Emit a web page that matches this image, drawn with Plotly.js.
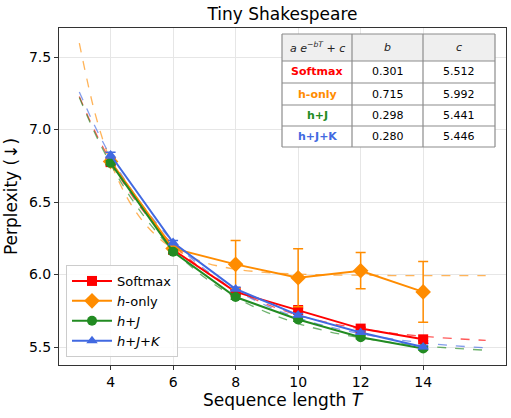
<!DOCTYPE html>
<html><head><meta charset="utf-8">
<script src="https://cdn.plot.ly/plotly-3.0.1.min.js"></script>
<style>html,body{margin:0;padding:0;background:#fff}#chart{width:511px;height:418px}</style>
</head><body><div id="chart"></div>
<script>
// Measured points
const seqLen = [4, 6, 8, 10, 12, 14];
const softmax = [6.775, 6.17, 5.88, 5.755, 5.627, 5.553];
const softmaxErr = [0.015, 0.012, 0.012, 0.012, 0.01, 0.01];
const hOnly = [6.78, 6.18, 6.07, 5.978, 6.026, 5.88];
const hOnlyErr = [0.015, 0.015, 0.165, 0.2, 0.125, 0.21];
const hJ = [6.77, 6.157, 5.845, 5.69, 5.567, 5.49];
const hJErr = [0.015, 0.012, 0.015, 0.012, 0.01, 0.01];
const hJK = [6.824, 6.22, 5.9, 5.72, 5.6, 5.50];
const hJKErr = [0.02, 0.015, 0.012, 0.012, 0.01, 0.01];

const fitT = [3, 3.5, 4, 4.5, 5, 5.5, 6, 7, 8, 9, 10, 11, 12, 13, 14, 15, 16];
const fitSoftmax = [7.227, 6.987, 6.781, 6.604, 6.451, 6.320, 6.207, 6.026, 5.893, 5.794, 5.720, 5.666, 5.626, 5.596, 5.574, 5.558, 5.546];
const fitHOnly = [7.596, 7.114, 6.777, 6.541, 6.376, 6.260, 6.180, 6.084, 6.037, 6.014, 6.003, 5.997, 5.995, 5.993, 5.993, 5.992, 5.992];
const fitHJ = [7.220, 6.974, 6.762, 6.579, 6.422, 6.286, 6.169, 5.981, 5.842, 5.739, 5.662, 5.605, 5.563, 5.531, 5.508, 5.491, 5.478];
const fitHJK = [7.259, 7.022, 6.816, 6.638, 6.482, 6.346, 6.229, 6.038, 5.893, 5.784, 5.701, 5.639, 5.592, 5.556, 5.529, 5.509, 5.494];

// Table
const tableHeader = ["<i>a e</i><sup><i>−bT</i></sup> + <i>c</i>", "<i>b</i>", "<i>c</i>"];
const tableNames = ["Softmax", "h-only", "h+J", "h+J+K"];
const tableB = ["0.301", "0.715", "0.298", "0.280"];
const tableC = ["5.512", "5.992", "5.441", "5.446"];

const legendNames = ["Softmax", "<i>h</i>-only", "<i>h</i>+<i>J</i>", "<i>h</i>+<i>J</i>+<i>K</i>"];
const colors = ["#ff0000", "#ff8c00", "#228b22", "#4169e1"];
const symbols = ["square", "diamond", "circle", "triangle-up"];
const msizes = [10, 12, 10, 10];
const ys = [softmax, hOnly, hJ, hJK];
const errs = [softmaxErr, hOnlyErr, hJErr, hJKErr];
const fits = [fitSoftmax, fitHOnly, fitHJ, fitHJK];

const traces = [];
for (let i = 0; i < 4; i++) {
  traces.push({x: fitT, y: fits[i], mode: 'lines', line: {color: colors[i], width: 1.3, dash: 'dash', shape: 'spline'}, opacity: 0.65, showlegend: false, hoverinfo: 'skip'});
}
for (let i = 0; i < 4; i++) {
  traces.push({x: seqLen, y: ys[i], name: legendNames[i], mode: 'lines+markers',
    line: {color: colors[i], width: 2}, marker: {color: colors[i], symbol: symbols[i], size: msizes[i]},
    error_y: {type: 'data', array: errs[i], visible: true, color: colors[i], thickness: 1.5, width: 5}});
}

const W = 511, H = 418, mL = 59, mR = 5, mT = 28, mB = 53;
const px = v => (v - mL) / (W - mL - mR);
const py = v => (H - mB - v) / (H - mT - mB);
const colX = [282, 352, 423, 495];
const rowY = [34, 61, 83, 105, 126, 147];
const shapes = [];
const annotations = [];
shapes.push({type: 'rect', xref: 'paper', yref: 'paper', x0: px(colX[0]), x1: px(colX[3]), y0: py(rowY[1]), y1: py(rowY[0]), fillcolor: '#efefef', line: {width: 0}, layer: 'above'});
shapes.push({type: 'rect', xref: 'paper', yref: 'paper', x0: px(colX[0]), x1: px(colX[3]), y0: py(rowY[5]), y1: py(rowY[1]), fillcolor: '#ffffff', line: {width: 0}, layer: 'above'});
for (let r = 0; r < rowY.length; r++) {
  shapes.push({type: 'line', xref: 'paper', yref: 'paper', x0: px(colX[0]), x1: px(colX[3]), y0: py(rowY[r]), y1: py(rowY[r]), line: {color: '#8c8c8c', width: 1.2}, layer: 'above'});
}
for (let c = 0; c < colX.length; c++) {
  shapes.push({type: 'line', xref: 'paper', yref: 'paper', x0: px(colX[c]), x1: px(colX[c]), y0: py(rowY[5]), y1: py(rowY[0]), line: {color: '#8c8c8c', width: 1.2}, layer: 'above'});
}
const cellCenterX = c => px((colX[c] + colX[c + 1]) / 2);
const cellCenterY = r => py((rowY[r] + rowY[r + 1]) / 2);
for (let c = 0; c < 3; c++) {
  annotations.push({xref: 'paper', yref: 'paper', x: cellCenterX(c), y: cellCenterY(0), text: tableHeader[c], showarrow: false, xanchor: 'center', yanchor: 'middle', font: {size: 11, color: '#222'}});
}
for (let r = 0; r < 4; r++) {
  annotations.push({xref: 'paper', yref: 'paper', x: cellCenterX(0), y: cellCenterY(r + 1), text: '<b>' + tableNames[r] + '</b>', showarrow: false, xanchor: 'center', yanchor: 'middle', font: {size: 11, color: colors[r]}});
  annotations.push({xref: 'paper', yref: 'paper', x: cellCenterX(1), y: cellCenterY(r + 1), text: tableB[r], showarrow: false, xanchor: 'center', yanchor: 'middle', font: {size: 11, color: '#000'}});
  annotations.push({xref: 'paper', yref: 'paper', x: cellCenterX(2), y: cellCenterY(r + 1), text: tableC[r], showarrow: false, xanchor: 'center', yanchor: 'middle', font: {size: 11, color: '#000'}});
}

const layout = {
  width: W, height: H,
  margin: {l: mL, r: mR, t: mT, b: mB},
  font: {family: 'DejaVu Sans', color: '#000'},
  paper_bgcolor: '#fff', plot_bgcolor: '#fff',
  title: {text: 'Tiny Shakespeare', font: {size: 17}, x: (mL + (W - mL - mR) / 2) / W, xanchor: 'center', y: 1 - 14 / H, yanchor: 'middle'},
  xaxis: {range: [2.35, 16.65], tickvals: seqLen, ticktext: seqLen.map(String), tickfont: {size: 14},
    title: {text: 'Sequence length <i>T</i>', font: {size: 17}, standoff: 5},
    showgrid: true, gridcolor: '#e6e6e6', zeroline: false, showline: true, mirror: true, linecolor: '#333', linewidth: 1,
    ticks: 'outside', ticklen: 4, tickcolor: '#333'},
  yaxis: {range: [5.376, 7.70], tickvals: [5.5, 6.0, 6.5, 7.0, 7.5], ticktext: ['5.5', '6.0', '6.5', '7.0', '7.5'], tickfont: {size: 14},
    title: {text: 'Perplexity (↓)', font: {size: 17}, standoff: 6},
    showgrid: true, gridcolor: '#e6e6e6', zeroline: false, showline: true, mirror: true, linecolor: '#333', linewidth: 1,
    ticks: 'outside', ticklen: 4, tickcolor: '#333'},
  legend: {x: px(66), y: py(357), xanchor: 'left', yanchor: 'bottom', bgcolor: 'rgba(255,255,255,0.85)', bordercolor: '#ccc', borderwidth: 1, font: {size: 13}, itemwidth: 40, tracegroupgap: 0},
  shapes: shapes,
  annotations: annotations,
  showlegend: true
};
Plotly.newPlot('chart', traces, layout, {displayModeBar: false, staticPlot: true});
</script></body></html>
